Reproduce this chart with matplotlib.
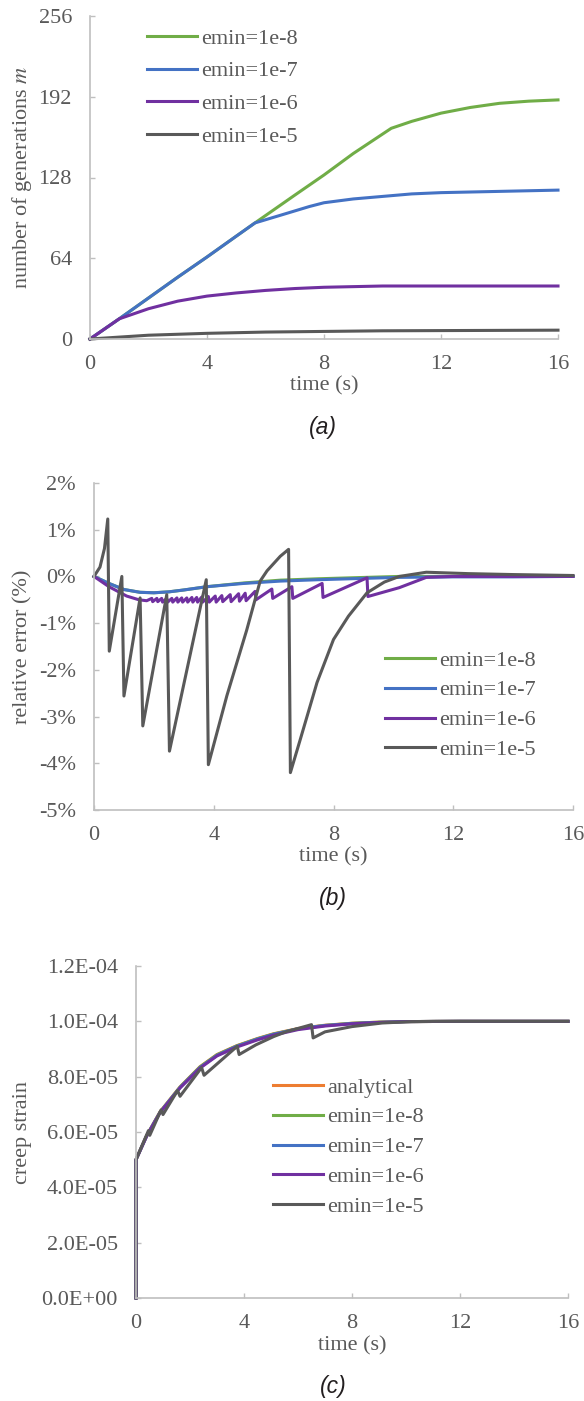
import matplotlib.pyplot as plt

plt.rcParams['font.family'] = ['Liberation Serif', 'DejaVu Serif']
plt.rcParams['mathtext.fontset'] = 'stix'

GREEN = '#70AD47'
BLUE = '#4472C4'
PURPLE = '#7030A0'
GRAY = '#595959'
ORANGE = '#ED7D31'
AXIS = '#BFBFBF'
TXT = '#595959'
LW = 2.2

# ---------------- (a) number of generations ----------------
a_green_t = [0, 1, 2, 3, 4, 5, 5.64, 7, 8, 9, 10.3, 11, 12, 13, 14, 15, 16]
a_green_m = [0, 16, 32.5, 49, 65, 81.5, 92, 114, 130, 147, 167, 172.5, 179, 183.5, 186.8, 188.5, 189.5]
a_blue_t = [0, 1, 2, 3, 4, 5, 5.64, 6.5, 7.5, 8, 9, 10, 11, 12, 13, 14, 15, 16]
a_blue_m = [0, 16, 32.5, 49, 65, 81.5, 92, 98, 105, 108, 111, 113, 115, 116, 116.5, 117, 117.5, 118]
a_purple_t = [0, 1, 1.5, 2, 2.5, 3, 3.5, 4, 5, 6, 7, 8, 9, 10, 12, 16]
a_purple_m = [0, 16, 20, 24, 27, 30, 32, 34, 36.5, 38.5, 40, 41, 41.5, 42, 42, 42]
a_gray_t = [0, 1, 2, 4, 6, 8, 10, 16]
a_gray_m = [0, 1.5, 3, 4.5, 5.5, 6, 6.5, 7]

# ---------------- (b) relative error (%) ----------------
b_green_t = [0, 0.5, 1.0, 1.54, 2.0, 2.5, 3.0, 3.77, 5.0, 6.22, 7.5, 9.1, 10.2, 12, 14, 16]
b_green_e = [0, -0.15, -0.28, -0.34, -0.35, -0.33, -0.29, -0.22, -0.14, -0.08, -0.05, -0.02, 0, 0, 0, 0]
b_blue_t = [0, 0.5, 1.0, 1.54, 2.0, 2.5, 3.0, 3.77, 5.0, 6.22, 7.5, 9.1, 10.2, 12, 14, 16]
b_blue_e = [0, -0.15, -0.28, -0.34, -0.35, -0.33, -0.29, -0.22, -0.15, -0.1, -0.07, -0.04, -0.02, -0.01, -0.01, 0]
b_purple_t = [0, 0.5, 1.09, 1.5, 1.76,
              1.93, 1.96, 2.10, 2.13, 2.26, 2.29, 2.43, 2.46, 2.60, 2.63,
              2.77, 2.80, 2.93, 2.96, 3.10, 3.13, 3.27, 3.30, 3.43, 3.46,
              3.60, 3.63, 3.82, 3.85, 4.05, 4.08, 4.27, 4.30, 4.55, 4.58,
              4.83, 4.86, 5.05, 5.08, 5.38, 5.41, 5.94, 5.97, 6.61, 6.64,
              7.62, 7.65, 9.12, 9.15, 10.2, 11.1, 12, 14, 16]
b_purple_e = [0, -0.22, -0.42, -0.5, -0.52,
              -0.47, -0.54, -0.47, -0.54, -0.47, -0.55, -0.47, -0.55, -0.47, -0.55,
              -0.46, -0.55, -0.46, -0.55, -0.46, -0.55, -0.45, -0.55, -0.45, -0.55,
              -0.44, -0.55, -0.43, -0.55, -0.42, -0.55, -0.41, -0.54, -0.39, -0.54,
              -0.37, -0.53, -0.36, -0.52, -0.32, -0.5, -0.27, -0.47, -0.22, -0.47,
              -0.15, -0.45, -0.03, -0.43, -0.24, -0.02, 0, 0, 0]
b_gray_t = [0, 0.2, 0.35, 0.46, 0.51, 0.93, 1.0, 1.54, 1.63, 2.43, 2.52, 3.75, 3.82,
            4.44, 5.1, 5.55, 5.78, 6.22, 6.5, 6.56, 6.89, 7.45, 8.0, 8.5, 9.12, 9.7,
            10.2, 11.1, 12.5, 14, 16]
b_gray_e = [0, 0.2, 0.6, 1.23, -1.6, 0.0, -2.56, -0.46, -3.2, -0.39, -3.74, -0.07, -4.03,
            -2.55, -1.15, -0.1, 0.12, 0.43, 0.58, -4.2, -3.49, -2.27, -1.35, -0.85, -0.35, -0.12,
            0.0, 0.09, 0.06, 0.04, 0.02]

# ---------------- (c) creep strain ----------------
c_anal_t = [0, 0, 0.4, 0.89, 1.63, 2.37, 3.0, 3.73, 4.5, 5.09, 6, 7, 8, 9, 10, 12, 16]
c_anal_v = [0, 5.0e-5, 5.88e-5, 6.73e-5, 7.63e-5, 8.36e-5, 8.8e-5, 9.12e-5, 9.38e-5, 9.55e-5,
            9.74e-5, 9.86e-5, 9.93e-5, 9.97e-5, 9.99e-5, 1.0e-4, 1.0e-4]
c_green_v = [0, 5.0e-5, 5.87e-5, 6.72e-5, 7.62e-5, 8.35e-5, 8.79e-5, 9.11e-5, 9.37e-5, 9.54e-5,
             9.73e-5, 9.85e-5, 9.93e-5, 9.97e-5, 9.99e-5, 1.0e-4, 1.0e-4]
c_blue_v = [0, 5.0e-5, 5.87e-5, 6.71e-5, 7.61e-5, 8.33e-5, 8.77e-5, 9.1e-5, 9.36e-5, 9.53e-5,
            9.73e-5, 9.85e-5, 9.92e-5, 9.96e-5, 9.99e-5, 1.0e-4, 1.0e-4]
c_purple_v = [0, 5.0e-5, 5.86e-5, 6.7e-5, 7.59e-5, 8.31e-5, 8.75e-5, 9.07e-5, 9.33e-5, 9.5e-5,
              9.7e-5, 9.83e-5, 9.91e-5, 9.96e-5, 9.99e-5, 1.0e-4, 1.0e-4]
c_gray_t = [0, 0, 0.46, 0.51, 0.93, 1.0, 1.54, 1.63, 2.43, 2.52, 3.75, 3.82,
            4.44, 5.1, 5.55, 6.5, 6.56, 7.0, 8.0, 9.12, 10.2, 11.1, 16]
c_gray_v = [0, 5.0e-5, 6.05e-5, 5.88e-5, 6.8e-5, 6.63e-5, 7.5e-5, 7.29e-5, 8.33e-5, 8.05e-5,
            9.1e-5, 8.8e-5, 9.15e-5, 9.45e-5, 9.62e-5, 9.88e-5, 9.4e-5, 9.62e-5, 9.81e-5,
            9.94e-5, 9.99e-5, 1.0e-4, 1.0e-4]

xticks = [0, 4, 8, 12, 16]
a_yticks = [0, 64, 128, 192, 256]
b_yticks = [-5, -4, -3, -2, -1, 0, 1, 2]
b_ylabels = ['-5%', '-4%', '-3%', '-2%', '-1%', '0%', '1%', '2%']
c_yticks = [0, 2e-5, 4e-5, 6e-5, 8e-5, 1.0e-4, 1.2e-4]
c_ylabels = ['0.0E+00', '2.0E-05', '4.0E-05', '6.0E-05', '8.0E-05', '1.0E-04', '1.2E-04']

W, H = 584, 1401
fig = plt.figure(figsize=(W / 100, H / 100), dpi=100)


def px_rect(x0, y0, x1, y1):
    return [x0 / W, 1 - y1 / H, (x1 - x0) / W, (y1 - y0) / H]


def style(ax, ylabel, ylx, xlabelpad):
    for s in ['top', 'right']:
        ax.spines[s].set_visible(False)
    for s in ['left', 'bottom']:
        ax.spines[s].set_color(AXIS)
        ax.spines[s].set_linewidth(1.2)
    ax.tick_params(axis='both', direction='in', length=3.6, width=1, color=AXIS,
                   labelsize=16, labelcolor=TXT)
    ax.tick_params(axis='y', pad=13)
    ax.tick_params(axis='x', pad=11.5)
    ax.set_xlim(0, 16)
    ax.set_xticks(xticks)
    ax.set_xlabel('time (s)', fontsize=16, color=TXT, labelpad=xlabelpad)
    ax.set_ylabel(ylabel, fontsize=16, color=TXT)
    ax.yaxis.set_label_coords(ylx, 0.5)


def legend(ax, x, y, spacing):
    leg = ax.legend(loc='upper left', bbox_to_anchor=(x / W, 1 - y / H),
                    bbox_transform=fig.transFigure, frameon=False, fontsize=16,
                    borderaxespad=0, borderpad=0, handlelength=2.25,
                    handletextpad=0.18, labelspacing=spacing)
    for t in leg.get_texts():
        t.set_color(TXT)


# (a)
ax1 = fig.add_axes(px_rect(90, 16, 558, 339))
ax1.plot(a_green_t, a_green_m, color=GREEN, lw=LW, label='emin=1e-8', clip_on=False)
ax1.plot(a_blue_t, a_blue_m, color=BLUE, lw=LW, label='emin=1e-7', clip_on=False)
ax1.plot(a_purple_t, a_purple_m, color=PURPLE, lw=LW, label='emin=1e-6', clip_on=False)
ax1.plot(a_gray_t, a_gray_m, color=GRAY, lw=LW, label='emin=1e-5', clip_on=False)
ax1.set_ylim(0, 256)
ax1.set_yticks(a_yticks)
style(ax1, r'number of generations $m$', -0.12, 1.5)
legend(ax1, 147, 28, 0.55)

# (b)
ax2 = fig.add_axes(px_rect(94, 483, 573, 810))
ax2.plot(b_green_t, b_green_e, color=GREEN, lw=LW, label='emin=1e-8', clip_on=False)
ax2.plot(b_blue_t, b_blue_e, color=BLUE, lw=LW, label='emin=1e-7', clip_on=False)
ax2.plot(b_purple_t, b_purple_e, color=PURPLE, lw=LW, label='emin=1e-6', clip_on=False)
ax2.plot(b_gray_t, b_gray_e, color=GRAY, lw=LW, label='emin=1e-5', clip_on=False)
ax2.set_ylim(-5, 2)
ax2.set_yticks(b_yticks)
ax2.set_yticklabels(b_ylabels)
style(ax2, 'relative error (%)', -0.128, 1.5)
legend(ax2, 385, 650, 0.42)

# (c)
ax3 = fig.add_axes(px_rect(136, 966, 568, 1298))
ax3.plot(c_anal_t, c_anal_v, color=ORANGE, lw=LW, label='analytical', clip_on=False)
ax3.plot(c_anal_t, c_green_v, color=GREEN, lw=LW, label='emin=1e-8', clip_on=False)
ax3.plot(c_anal_t, c_blue_v, color=BLUE, lw=LW, label='emin=1e-7', clip_on=False)
ax3.plot(c_anal_t, c_purple_v, color=PURPLE, lw=LW, label='emin=1e-6', clip_on=False)
ax3.plot(c_gray_t, c_gray_v, color=GRAY, lw=LW, label='emin=1e-5', clip_on=False)
ax3.set_ylim(0, 1.2e-4)
ax3.set_yticks(c_yticks)
ax3.set_yticklabels(c_ylabels)
style(ax3, 'creep strain', -0.24, 2.5)
legend(ax3, 273, 1077, 0.42)

cap = dict(family=['Liberation Sans', 'DejaVu Sans'], style='italic', fontsize=16.5,
           color='#231F20', ha='center', va='center')
fig.text(323 / W, 1 - 428 / H, '(a)', **cap)
fig.text(333 / W, 1 - 899 / H, '(b)', **cap)
fig.text(333 / W, 1 - 1387 / H, '(c)', **cap)

fig.savefig('out.png', dpi=100)
